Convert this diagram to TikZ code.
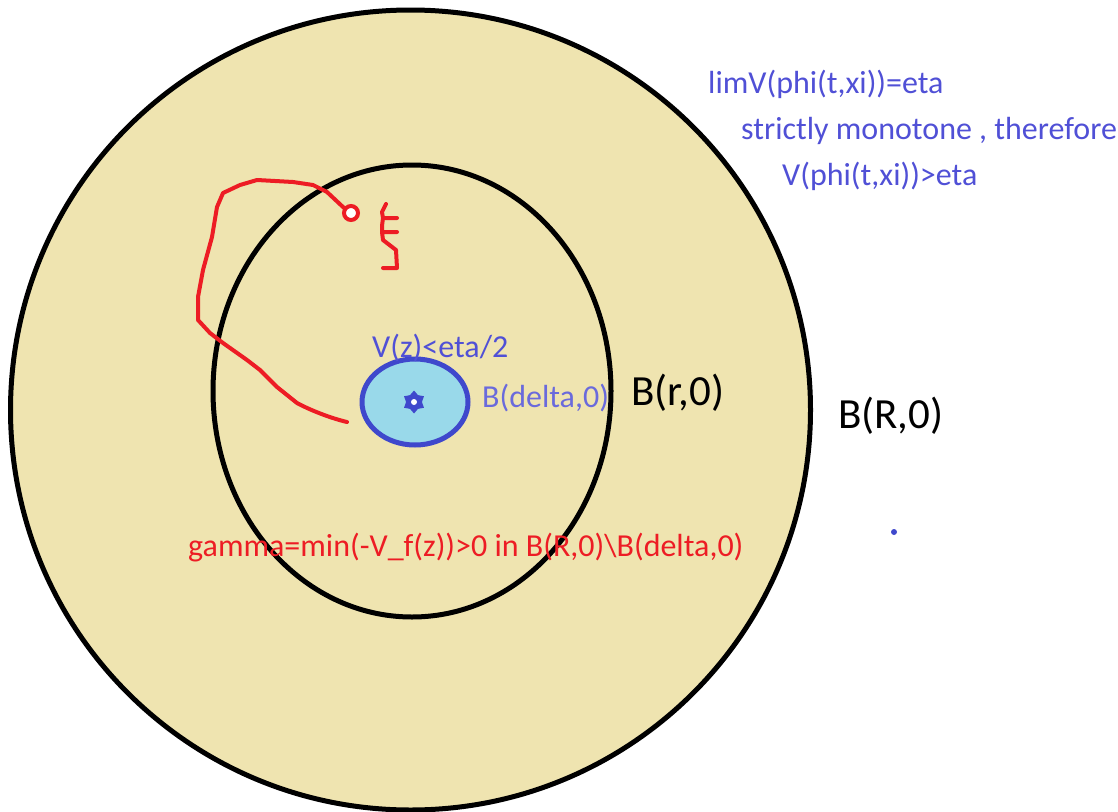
\documentclass[tikz,border=0pt]{standalone}
\usepackage{fontspec}
\setmainfont{Carlito}
\usetikzlibrary{shapes.geometric}
\definecolor{tanfill}{RGB}{239,228,176}
\definecolor{paintblue}{RGB}{63,72,204}
\definecolor{lightturq}{RGB}{153,217,234}
\definecolor{paintred}{RGB}{237,28,36}
\definecolor{textblue}{RGB}{80,80,214}
\tikzset{
  ring/.style={draw=black, line width=5pt},
  smalltext/.style={font=\fontsize{32}{38}\selectfont, inner sep=0pt, anchor=base west},
  bigtext/.style={font=\fontsize{43}{51}\selectfont, inner sep=0pt, anchor=base west, text=black},
  redline/.style={draw=paintred, line width=4pt, line cap=round, line join=round},
}
\begin{document}
\begin{tikzpicture}[x=1pt,y=-1pt]
\useasboundingbox (0,0) rectangle (1118,811);
\clip (0,0) rectangle (1118,811);
% outer ball
\draw[ring, fill=tanfill] (410.5,410) circle (400);
% inner ball
\draw[ring] (412,391) ellipse (199 and 226);
% small ball
\draw[draw=paintblue, line width=5pt, fill=lightturq] (415,402) ellipse (53 and 43);
\node[star, star points=6, star point ratio=1.45, minimum size=23pt, inner sep=0pt, fill=paintblue] (eq) at (414,402) {};
\fill[white] (eq.center) circle (3);
% red trajectory
\draw[redline] (347,422) .. controls (330,418) and (310,410) .. (297,403)
  -- (277,387) -- (260,370) -- (247,360) -- (223,343) -- (210,333) -- (198,320)
  -- (198,297) -- (203,270) -- (212,237) -- (217,207) -- (223,193) -- (240,185)
  -- (257,180) -- (293,182) -- (313,185) -- (327,192) -- (343,207) -- (349,211);
\node[circle, draw=paintred, line width=4pt, fill=white, minimum size=14pt, inner sep=0pt] (xi) at (351,213) {};
% squiggle
\draw[redline] (386,204) -- (382,212) -- (383,218) -- (397,218) -- (383,218)
  -- (382,226) -- (382,232) -- (397,232) -- (382,232) -- (383,240) -- (396,250)
  -- (397,268) -- (383,268);
% labels
\node[smalltext, text=textblue] (l1) at (708,93) {limV(phi(t,xi))=eta};
\node[smalltext, text=textblue] (l2) at (741,139) {strictly monotone , therefore};
\node[smalltext, text=textblue] (l3) at (782,185) {V(phi(t,xi))>eta};
\node[smalltext, text=textblue] (vz) at (372,357) {V(z)<eta/2};
\node[smalltext, text=textblue!85!white] (bd) at (482,407) {B(delta,0)};
\node[bigtext] (br) at (631,405) {B(r,0)};
\node[bigtext] (bR) at (838,428) {B(R,0)};
\node[smalltext, text=paintred] (gm) at (188,556) {gamma=min(-V\_f(z))>0 in B(R,0)\textbackslash B(delta,0)};
\fill[paintblue] (894,532) circle (3) coordinate (dot);
\end{tikzpicture}
\end{document}
